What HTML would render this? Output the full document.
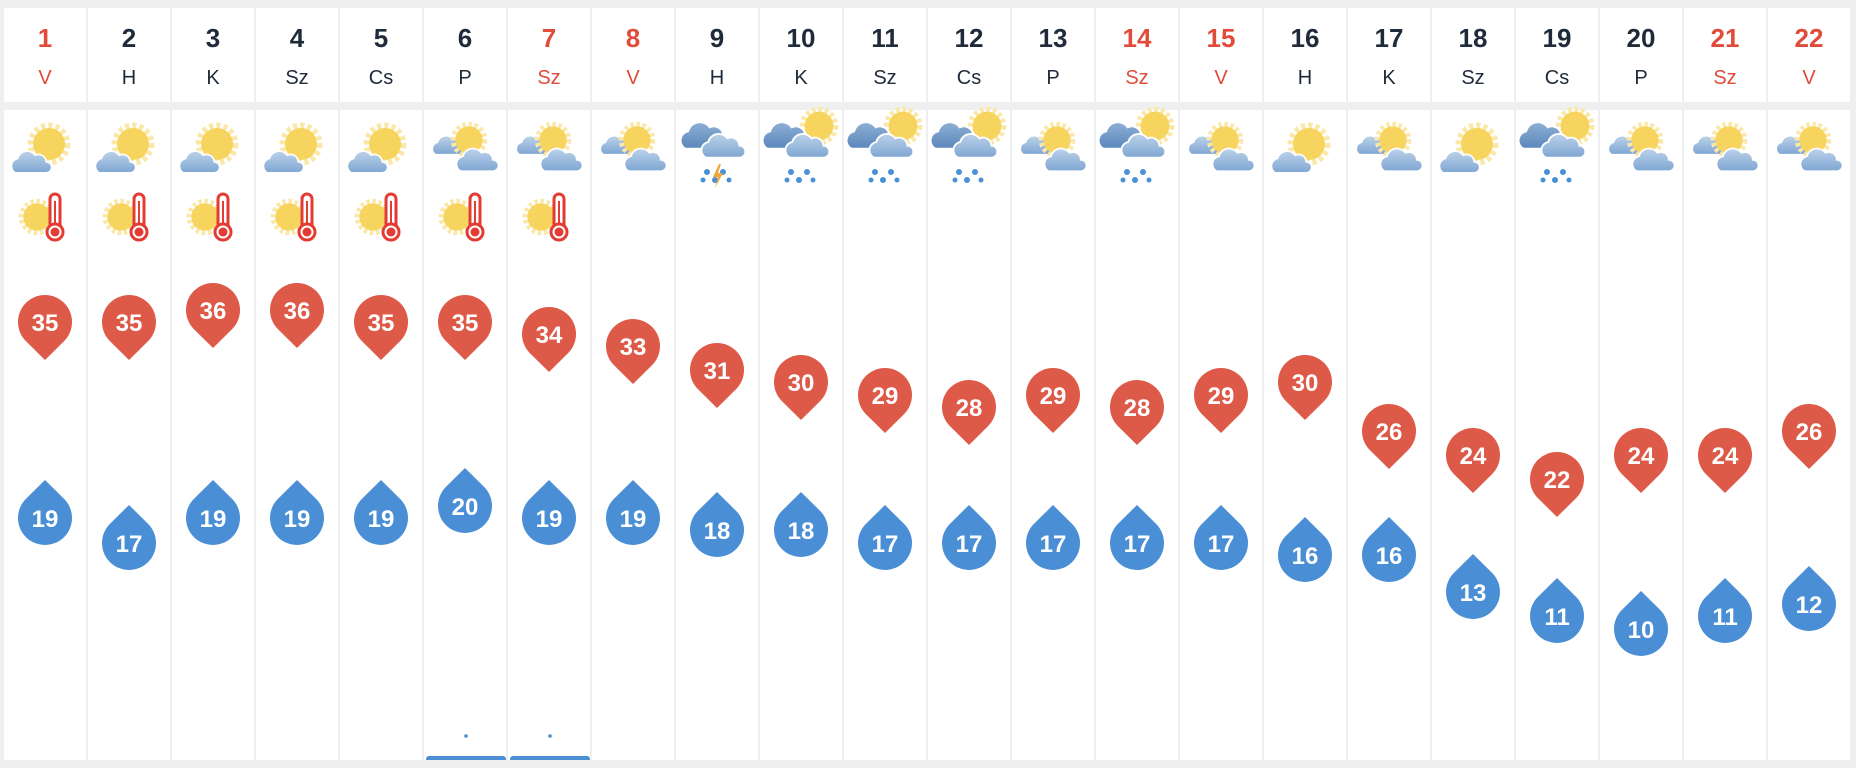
<!DOCTYPE html>
<html><head><meta charset="utf-8"><style>
html,body{margin:0;padding:0;background:#efefef;width:1856px;height:768px;overflow:hidden}
svg{display:block}
text{font-family:"Liberation Sans",sans-serif}
</style></head><body>
<svg width="1856" height="768" viewBox="0 0 1856 768" xmlns="http://www.w3.org/2000/svg">
<defs>
<linearGradient id="cl" x1="0" y1="0" x2="0" y2="1"><stop offset="0" stop-color="#bcd2ea"/><stop offset="1" stop-color="#7ea6d2"/></linearGradient>
<linearGradient id="cd" x1="0" y1="0" x2="0" y2="1"><stop offset="0" stop-color="#8fb0d4"/><stop offset="1" stop-color="#5a86bb"/></linearGradient>
<g id="sun"><circle r="18" fill="none" stroke="#fbe8a8" stroke-width="7" stroke-dasharray="4 3"/><circle r="16" fill="#f6d45e"/></g>
<path id="cloud" d="M-16,8 a7,7 0 0 1 2,-13 a9,9 0 0 1 16,-3 a7,7 0 0 1 10,6 a5,5 0 0 1 0,10 z" stroke="#fff" stroke-width="1.5"/>
<g id="A"><use href="#sun" x="4" y="-6"/><use href="#cloud" transform="translate(-12,14) scale(1.1)" fill="url(#cl)"/></g>
<g id="B"><use href="#cloud" transform="translate(-14,-3) scale(0.95)" fill="url(#cl)"/><use href="#sun" transform="translate(4,-10) scale(0.85)"/><use href="#cloud" transform="translate(14,12) scale(1.15)" fill="url(#cl)"/></g>
<g id="drops" fill="#4a90d6"><circle cx="-10" cy="22" r="3"/><circle cx="6" cy="22" r="3"/><circle cx="-2" cy="30" r="3"/><circle cx="12" cy="30" r="2.5"/><circle cx="-14" cy="30" r="2.5"/></g>
<g id="C"><use href="#sun" transform="translate(18,-24) scale(0.9)"/><use href="#cloud" transform="translate(-12,-12) scale(1.35)" fill="url(#cd)"/><use href="#cloud" transform="translate(8,-2) scale(1.2)" fill="url(#cl)"/><use href="#drops"/></g>
<g id="D"><use href="#cloud" transform="translate(-10,-12) scale(1.35)" fill="url(#cd)"/><use href="#cloud" transform="translate(8,-2) scale(1.2)" fill="url(#cl)"/><use href="#drops"/><path d="M2,14 L-4,27 L1,27 L-2,38 L6,23 L1,23 L4,14 Z" fill="#f1a63a"/></g>
<g id="T"><use href="#sun" transform="translate(-8,0) scale(0.85)"/><rect x="5" y="-23" width="10" height="36" rx="5" fill="#fff" stroke="#e43b33" stroke-width="3"/><line x1="10" y1="-16" x2="10" y2="12" stroke="#e43b33" stroke-width="2"/><circle cx="10" cy="15" r="8" fill="#fff" stroke="#e43b33" stroke-width="3"/><circle cx="10" cy="15" r="4.5" fill="#e43b33"/></g>
<path id="rp" d="M-19.1,19.1 L0,38 L19.1,19.1 A27,27 0 1 0 -19.1,19.1 Z" fill="#de5a48"/>
<path id="bp" d="M-19.1,-19.1 L0,-38 L19.1,-19.1 A27,27 0 1 1 -19.1,-19.1 Z" fill="#4a8fd6"/>
</defs>
<rect x="0" y="0" width="1856" height="768" fill="#efefef"/>
<g id="cols" fill="#fff">
<rect x="4" y="8" width="82" height="94"/><rect x="88" y="8" width="82" height="94"/><rect x="172" y="8" width="82" height="94"/><rect x="256" y="8" width="82" height="94"/><rect x="340" y="8" width="82" height="94"/><rect x="424" y="8" width="82" height="94"/><rect x="508" y="8" width="82" height="94"/><rect x="592" y="8" width="82" height="94"/><rect x="676" y="8" width="82" height="94"/><rect x="760" y="8" width="82" height="94"/><rect x="844" y="8" width="82" height="94"/><rect x="928" y="8" width="82" height="94"/><rect x="1012" y="8" width="82" height="94"/><rect x="1096" y="8" width="82" height="94"/><rect x="1180" y="8" width="82" height="94"/><rect x="1264" y="8" width="82" height="94"/><rect x="1348" y="8" width="82" height="94"/><rect x="1432" y="8" width="82" height="94"/><rect x="1516" y="8" width="82" height="94"/><rect x="1600" y="8" width="82" height="94"/><rect x="1684" y="8" width="82" height="94"/><rect x="1768" y="8" width="82" height="94"/>
<rect x="4" y="110" width="82" height="650"/><rect x="88" y="110" width="82" height="650"/><rect x="172" y="110" width="82" height="650"/><rect x="256" y="110" width="82" height="650"/><rect x="340" y="110" width="82" height="650"/><rect x="424" y="110" width="82" height="650"/><rect x="508" y="110" width="82" height="650"/><rect x="592" y="110" width="82" height="650"/><rect x="676" y="110" width="82" height="650"/><rect x="760" y="110" width="82" height="650"/><rect x="844" y="110" width="82" height="650"/><rect x="928" y="110" width="82" height="650"/><rect x="1012" y="110" width="82" height="650"/><rect x="1096" y="110" width="82" height="650"/><rect x="1180" y="110" width="82" height="650"/><rect x="1264" y="110" width="82" height="650"/><rect x="1348" y="110" width="82" height="650"/><rect x="1432" y="110" width="82" height="650"/><rect x="1516" y="110" width="82" height="650"/><rect x="1600" y="110" width="82" height="650"/><rect x="1684" y="110" width="82" height="650"/><rect x="1768" y="110" width="82" height="650"/>
</g>
<g font-size="26" font-weight="bold" text-anchor="middle" fill="#1f2a3a">
<text x="45" y="47" fill="#e04b3a">1</text><text x="129" y="47">2</text><text x="213" y="47">3</text><text x="297" y="47">4</text><text x="381" y="47">5</text><text x="465" y="47">6</text><text x="549" y="47" fill="#e04b3a">7</text><text x="633" y="47" fill="#e04b3a">8</text><text x="717" y="47">9</text><text x="801" y="47">10</text><text x="885" y="47">11</text><text x="969" y="47">12</text><text x="1053" y="47">13</text><text x="1137" y="47" fill="#e04b3a">14</text><text x="1221" y="47" fill="#e04b3a">15</text><text x="1305" y="47">16</text><text x="1389" y="47">17</text><text x="1473" y="47">18</text><text x="1557" y="47">19</text><text x="1641" y="47">20</text><text x="1725" y="47" fill="#e04b3a">21</text><text x="1809" y="47" fill="#e04b3a">22</text>
</g>
<g font-size="20" text-anchor="middle" fill="#1f2a3a">
<text x="45" y="84" fill="#e04b3a">V</text><text x="129" y="84">H</text><text x="213" y="84">K</text><text x="297" y="84">Sz</text><text x="381" y="84">Cs</text><text x="465" y="84">P</text><text x="549" y="84" fill="#e04b3a">Sz</text><text x="633" y="84" fill="#e04b3a">V</text><text x="717" y="84">H</text><text x="801" y="84">K</text><text x="885" y="84">Sz</text><text x="969" y="84">Cs</text><text x="1053" y="84">P</text><text x="1137" y="84" fill="#e04b3a">Sz</text><text x="1221" y="84" fill="#e04b3a">V</text><text x="1305" y="84">H</text><text x="1389" y="84">K</text><text x="1473" y="84">Sz</text><text x="1557" y="84">Cs</text><text x="1641" y="84">P</text><text x="1725" y="84" fill="#e04b3a">Sz</text><text x="1809" y="84" fill="#e04b3a">V</text>
</g>
<g>
<use href="#A" x="45" y="150"/><use href="#A" x="129" y="150"/><use href="#A" x="213" y="150"/><use href="#A" x="297" y="150"/><use href="#A" x="381" y="150"/>
<use href="#B" x="465" y="150"/><use href="#B" x="549" y="150"/><use href="#B" x="633" y="150"/><use href="#D" x="717" y="150"/><use href="#C" x="801" y="150"/><use href="#C" x="885" y="150"/><use href="#C" x="969" y="150"/><use href="#B" x="1053" y="150"/><use href="#C" x="1137" y="150"/><use href="#B" x="1221" y="150"/><use href="#A" x="1305" y="150"/><use href="#B" x="1389" y="150"/><use href="#A" x="1473" y="150"/><use href="#C" x="1557" y="150"/><use href="#B" x="1641" y="150"/><use href="#B" x="1725" y="150"/><use href="#B" x="1809" y="150"/>
<use href="#T" x="45" y="217"/><use href="#T" x="129" y="217"/><use href="#T" x="213" y="217"/><use href="#T" x="297" y="217"/><use href="#T" x="381" y="217"/><use href="#T" x="465" y="217"/><use href="#T" x="549" y="217"/>
</g>
<g>
<use href="#rp" x="45" y="322"/><use href="#rp" x="129" y="322"/><use href="#rp" x="213" y="310"/><use href="#rp" x="297" y="310"/><use href="#rp" x="381" y="322"/><use href="#rp" x="465" y="322"/><use href="#rp" x="549" y="334"/><use href="#rp" x="633" y="346"/><use href="#rp" x="717" y="370"/><use href="#rp" x="801" y="382"/><use href="#rp" x="885" y="395"/><use href="#rp" x="969" y="407"/><use href="#rp" x="1053" y="395"/><use href="#rp" x="1137" y="407"/><use href="#rp" x="1221" y="395"/><use href="#rp" x="1305" y="382"/><use href="#rp" x="1389" y="431"/><use href="#rp" x="1473" y="455"/><use href="#rp" x="1557" y="479"/><use href="#rp" x="1641" y="455"/><use href="#rp" x="1725" y="455"/><use href="#rp" x="1809" y="431"/>
<use href="#bp" x="45" y="518"/><use href="#bp" x="129" y="543"/><use href="#bp" x="213" y="518"/><use href="#bp" x="297" y="518"/><use href="#bp" x="381" y="518"/><use href="#bp" x="465" y="506"/><use href="#bp" x="549" y="518"/><use href="#bp" x="633" y="518"/><use href="#bp" x="717" y="530"/><use href="#bp" x="801" y="530"/><use href="#bp" x="885" y="543"/><use href="#bp" x="969" y="543"/><use href="#bp" x="1053" y="543"/><use href="#bp" x="1137" y="543"/><use href="#bp" x="1221" y="543"/><use href="#bp" x="1305" y="555"/><use href="#bp" x="1389" y="555"/><use href="#bp" x="1473" y="592"/><use href="#bp" x="1557" y="616"/><use href="#bp" x="1641" y="629"/><use href="#bp" x="1725" y="616"/><use href="#bp" x="1809" y="604"/>
</g>
<g font-size="24" font-weight="bold" text-anchor="middle" fill="#fff">
<text x="45" y="331">35</text><text x="129" y="331">35</text><text x="213" y="319">36</text><text x="297" y="319">36</text><text x="381" y="331">35</text><text x="465" y="331">35</text><text x="549" y="343">34</text><text x="633" y="355">33</text><text x="717" y="379">31</text><text x="801" y="391">30</text><text x="885" y="404">29</text><text x="969" y="416">28</text><text x="1053" y="404">29</text><text x="1137" y="416">28</text><text x="1221" y="404">29</text><text x="1305" y="391">30</text><text x="1389" y="440">26</text><text x="1473" y="464">24</text><text x="1557" y="488">22</text><text x="1641" y="464">24</text><text x="1725" y="464">24</text><text x="1809" y="440">26</text>
<text x="45" y="527">19</text><text x="129" y="552">17</text><text x="213" y="527">19</text><text x="297" y="527">19</text><text x="381" y="527">19</text><text x="465" y="515">20</text><text x="549" y="527">19</text><text x="633" y="527">19</text><text x="717" y="539">18</text><text x="801" y="539">18</text><text x="885" y="552">17</text><text x="969" y="552">17</text><text x="1053" y="552">17</text><text x="1137" y="552">17</text><text x="1221" y="552">17</text><text x="1305" y="564">16</text><text x="1389" y="564">16</text><text x="1473" y="601">13</text><text x="1557" y="625">11</text><text x="1641" y="638">10</text><text x="1725" y="625">11</text><text x="1809" y="613">12</text>
</g>
<g fill="#4a8fd6">
<circle cx="466" cy="736" r="1.8"/><circle cx="550" cy="736" r="1.8"/>
<rect x="426" y="756" width="80" height="6" rx="3"/><rect x="510" y="756" width="80" height="6" rx="3"/>
</g>
<rect x="0" y="760" width="1856" height="8" fill="#efefef"/>
</svg>
</body></html>
